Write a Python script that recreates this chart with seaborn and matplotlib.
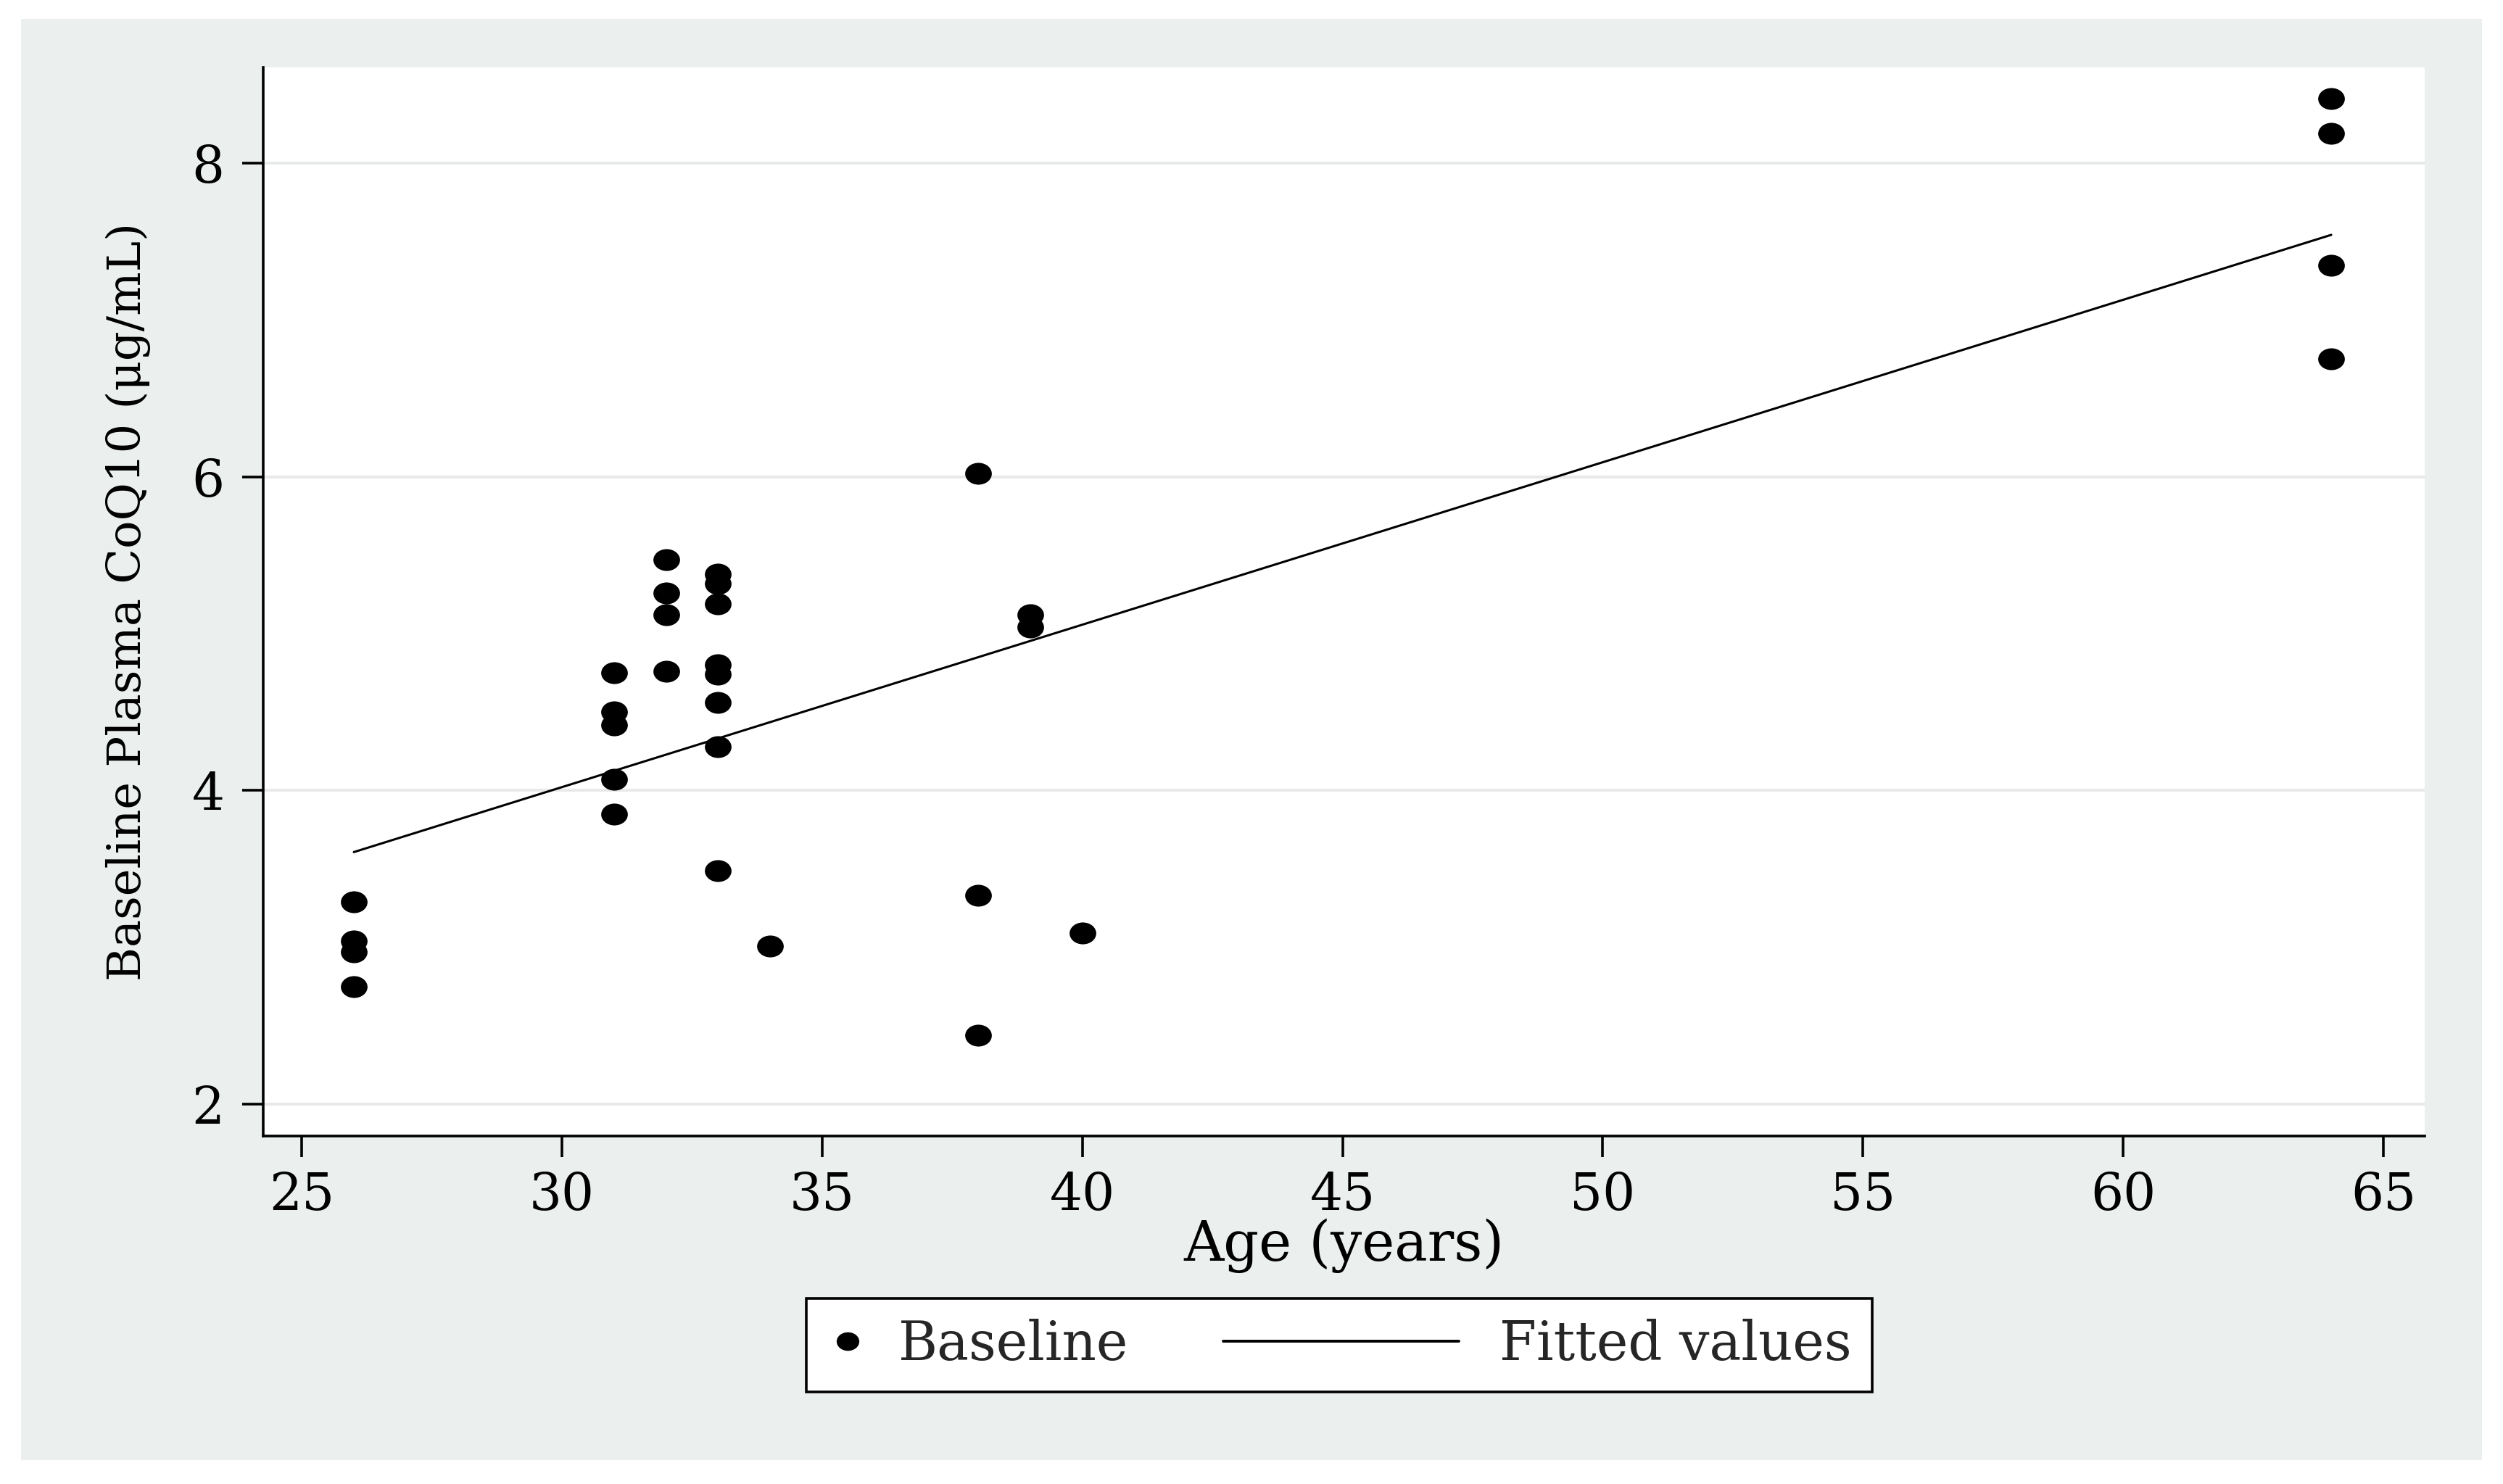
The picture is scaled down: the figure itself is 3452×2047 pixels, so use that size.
import matplotlib
matplotlib.use("Agg")
import matplotlib.pyplot as plt
import seaborn as sns
import pandas as pd
from matplotlib.markers import MarkerStyle
from matplotlib.transforms import Affine2D
from matplotlib.lines import Line2D
from matplotlib.legend_handler import HandlerBase
from matplotlib.patches import Rectangle

# values
age = [26, 26, 26, 26,
       31, 31, 31, 31, 31,
       32, 32, 32, 32,
       33, 33, 33, 33, 33, 33, 33, 33,
       34,
       38, 38, 38,
       39, 39,
       40,
       64, 64, 64, 64]
coq10 = [3.29, 3.04, 2.97, 2.75,
         4.75, 4.50, 4.42, 4.07, 3.85,
         5.47, 5.26, 5.12, 4.76,
         5.38, 5.32, 5.19, 4.80, 4.74, 4.56, 4.28, 3.49,
         3.01,
         6.02, 3.33, 2.44,
         5.12, 5.04,
         3.09,
         8.41, 8.19, 7.35, 6.75]

x_ticks = [25, 30, 35, 40, 45, 50, 55, 60, 65]
y_ticks = [2, 4, 6, 8]

df = pd.DataFrame({"age": age, "coq10": coq10})

sns.set_theme(style="white")
plt.rcParams["font.family"] = ["DejaVu Serif"]


class LongLine(HandlerBase):
    # legend line that reaches back into the column gap, Stata style
    def create_artists(self, legend, orig_handle, xdescent, ydescent,
                       width, height, fontsize, trans):
        y = height / 2 - ydescent
        ln = Line2D([-xdescent - 3.83 * fontsize, -xdescent + 0.585 * fontsize],
                    [y, y], color="black", lw=1.4)
        ln.set_transform(trans)
        return [ln]


fig = plt.figure(figsize=(17.26, 10.235), dpi=200, facecolor="white")
fig.add_artist(Rectangle((0.0083, 0.0161), 0.9834, 0.971,
                         transform=fig.transFigure, facecolor="#ebefee",
                         edgecolor="none", zorder=-1))
ax = fig.add_axes([0.1052, 0.2344, 0.8636, 0.7204])
ax.set_facecolor("white")

dot = MarkerStyle("o", transform=Affine2D().scale(1.0, 0.82))
sns.regplot(data=df, x="age", y="coq10", ax=ax, ci=None, marker=dot,
            color="black",
            scatter_kws={"s": 175, "linewidths": 0, "alpha": 1, "zorder": 3},
            line_kws={"lw": 1.1, "zorder": 2})

ax.set_xlim(24.26, 65.8)
ax.set_ylim(1.797, 8.612)
ax.set_xticks(x_ticks)
ax.set_yticks(y_ticks)

for s in ["top", "right"]:
    ax.spines[s].set_visible(False)
for s in ["left", "bottom"]:
    ax.spines[s].set_color("black")
    ax.spines[s].set_linewidth(1.3)

ax.tick_params(axis="both", direction="out", length=10.3, width=1.3,
               color="black", labelcolor="black", labelsize=25.5,
               bottom=True, left=True)
ax.tick_params(axis="y", pad=9)
ax.tick_params(axis="x", pad=7)

ax.yaxis.grid(True, color="#e8eaea", lw=1.5)
ax.xaxis.grid(False)
ax.set_axisbelow(True)

ax.set_xlabel("Age (years)", fontsize=27.5, color="black")
ax.xaxis.set_label_coords(0.5, -0.077)
ax.set_ylabel("Baseline Plasma CoQ10 (μg/mL)", fontsize=23, color="black")
ax.yaxis.set_label_coords(-0.052, 0.5)

scatter_h = ax.collections[0]
line_h = ax.lines[0]
leg = ax.legend([scatter_h, line_h], ["Baseline", "Fitted values"], ncol=2,
                loc="center", bbox_to_anchor=(0.535, 0.0935),
                bbox_transform=fig.transFigure,
                fontsize=26.5, frameon=True, fancybox=False, edgecolor="black",
                framealpha=1, borderpad=0.38, handlelength=0.8,
                handletextpad=0.55, columnspacing=5.6, scatterpoints=1,
                scatteryoffsets=[0.5], markerscale=0.85,
                handler_map={line_h: LongLine()})
leg.get_frame().set_linewidth(1.3)

fig.savefig("out.png", dpi=200, facecolor="white")
